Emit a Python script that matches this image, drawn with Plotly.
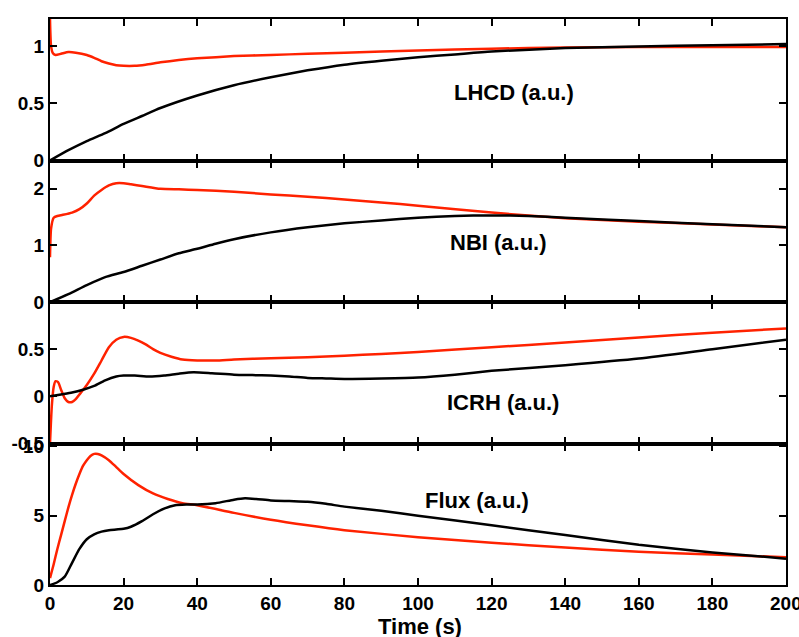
import plotly.graph_objects as go
from plotly.subplots import make_subplots

# ---------------- data ----------------
# Panel 1: LHCD
lhcd_red_t = [0, 0.3, 0.8, 1.5, 3, 5, 7, 10, 12, 14, 16, 18, 20, 23, 26, 30, 35, 40, 50, 60, 70, 80, 100, 120, 140, 160, 180, 200]
lhcd_red = [1.24, 1.0, 0.94, 0.925, 0.935, 0.95, 0.945, 0.925, 0.9, 0.87, 0.85, 0.835, 0.83, 0.83, 0.84, 0.86, 0.88, 0.895, 0.915, 0.925, 0.935, 0.945, 0.965, 0.98, 0.99, 0.995, 0.995, 0.995]
lhcd_blk_t = [0, 5, 10, 15, 20, 25, 30, 40, 50, 60, 70, 80, 90, 100, 110, 120, 140, 160, 180, 200]
lhcd_blk = [0, 0.09, 0.17, 0.24, 0.32, 0.39, 0.46, 0.57, 0.66, 0.73, 0.79, 0.84, 0.875, 0.905, 0.93, 0.955, 0.985, 1.0, 1.01, 1.02]

# Panel 2: NBI
nbi_red_t = [0, 0.3, 1, 2, 3.5, 6, 8, 10, 12, 14, 16, 18, 20, 22, 25, 30, 35, 40, 50, 60, 70, 80, 90, 100, 120, 140, 160, 180, 200]
nbi_red = [0.79, 1.3, 1.49, 1.52, 1.54, 1.58, 1.64, 1.74, 1.88, 1.98, 2.06, 2.1, 2.1, 2.08, 2.05, 2.0, 1.99, 1.98, 1.95, 1.9, 1.86, 1.81, 1.76, 1.7, 1.58, 1.48, 1.42, 1.37, 1.32]
nbi_blk_t = [0, 5, 10, 15, 20, 25, 30, 35, 40, 45, 50, 60, 70, 80, 90, 100, 110, 120, 130, 140, 160, 180, 200]
nbi_blk = [0, 0.14, 0.3, 0.44, 0.53, 0.64, 0.75, 0.86, 0.94, 1.03, 1.11, 1.23, 1.32, 1.39, 1.44, 1.49, 1.52, 1.53, 1.52, 1.49, 1.43, 1.375, 1.32]

# Panel 3: ICRH
icrh_red_t = [0, 0.5, 1, 1.5, 2.2, 3, 4, 5, 6, 7, 8, 10, 12, 14, 16, 18, 20, 22, 24, 26, 28, 30, 33, 36, 40, 45, 50, 60, 70, 80, 90, 100, 120, 140, 160, 180, 200]
icrh_red = [-0.5, -0.1, 0.1, 0.16, 0.15, 0.07, -0.02, -0.06, -0.06, -0.03, 0.02, 0.12, 0.24, 0.38, 0.52, 0.6, 0.63, 0.62, 0.59, 0.55, 0.5, 0.46, 0.42, 0.39, 0.38, 0.38, 0.39, 0.405, 0.415, 0.43, 0.45, 0.47, 0.52, 0.57, 0.625, 0.675, 0.72]
icrh_blk_t = [0, 3, 6, 9, 12, 15, 18, 20, 23, 27, 31, 35, 39, 44, 50, 55, 60, 65, 70, 75, 80, 90, 100, 110, 120, 140, 160, 180, 200]
icrh_blk = [0, 0.02, 0.04, 0.07, 0.11, 0.17, 0.21, 0.22, 0.22, 0.21, 0.22, 0.24, 0.255, 0.245, 0.23, 0.225, 0.22, 0.21, 0.195, 0.19, 0.185, 0.19, 0.2, 0.23, 0.27, 0.33, 0.4, 0.5, 0.6]

# Panel 4: Flux
flux_red_t = [0, 1, 2, 3, 4, 5, 6, 7, 8, 9, 10, 11, 12, 13, 14, 16, 18, 20, 24, 28, 32, 36, 40, 50, 60, 70, 80, 100, 120, 140, 160, 180, 200]
flux_red = [0.5, 1.5, 2.6, 3.6, 4.6, 5.6, 6.5, 7.3, 8.0, 8.6, 9.0, 9.3, 9.45, 9.45, 9.35, 9.0, 8.5, 8.0, 7.2, 6.6, 6.2, 5.9, 5.75, 5.2, 4.7, 4.3, 3.95, 3.45, 3.05, 2.7, 2.4, 2.2, 2.0]
flux_blk_t = [0, 2, 4, 6, 8, 10, 12, 14, 16, 18, 20, 22, 25, 28, 31, 34, 37, 40, 45, 50, 53, 56, 60, 65, 70, 75, 80, 90, 100, 120, 140, 160, 180, 200]
flux_blk = [0, 0.2, 0.6, 1.6, 2.6, 3.3, 3.65, 3.85, 3.95, 4.0, 4.05, 4.2, 4.6, 5.1, 5.5, 5.75, 5.8, 5.8, 5.9, 6.15, 6.25, 6.2, 6.1, 6.05, 6.0, 5.85, 5.65, 5.35, 5.0, 4.3, 3.6, 2.9, 2.35, 1.9]

panel_labels = ["LHCD (a.u.)", "NBI (a.u.)", "ICRH (a.u.)", "Flux (a.u.)"]
label_pos = [(126, 0.6), (122, 1.05), (123, -0.065), (116, 6.07)]
y_ranges = [[0, 1.24], [0, 2.5], [-0.5, 1.0], [0, 10.2]]
y_ticks = [[0, 0.5, 1], [0, 1, 2], [-0.5, 0, 0.5], [0, 5, 10]]
y_ticktext = [["0", "0.5", "1"], ["0", "1", "2"], ["-0.5", "0", "0.5"], ["0", "5", "10"]]
x_ticks = [0, 20, 40, 60, 80, 100, 120, 140, 160, 180, 200]
x_title = "Time (s)"

series = [
    (lhcd_red_t, lhcd_red, lhcd_blk_t, lhcd_blk),
    (nbi_red_t, nbi_red, nbi_blk_t, nbi_blk),
    (icrh_red_t, icrh_red, icrh_blk_t, icrh_blk),
    (flux_red_t, flux_red, flux_blk_t, flux_blk),
]

RED = "#ff2200"
FONT = "Liberation Sans, Arial, sans-serif"
TICKFONT = dict(family=FONT, size=19, color="black", weight="bold")

fig = make_subplots(rows=4, cols=1, shared_xaxes=True, vertical_spacing=0)

for i, (rt, rv, bt, bv) in enumerate(series):
    row = i + 1
    fig.add_trace(go.Scatter(x=rt, y=rv, mode="lines", line=dict(color=RED, width=2.5, shape="spline", smoothing=0.6),
                             showlegend=False, hoverinfo="skip"), row=row, col=1)
    fig.add_trace(go.Scatter(x=bt, y=bv, mode="lines", line=dict(color="black", width=2.5, shape="spline", smoothing=0.6),
                             showlegend=False, hoverinfo="skip"), row=row, col=1)
    fig.update_yaxes(range=y_ranges[i], tickvals=y_ticks[i], ticktext=y_ticktext[i], row=row, col=1)
    fig.add_annotation(x=label_pos[i][0], y=label_pos[i][1], text=panel_labels[i], showarrow=False,
                       xref=f"x{'' if row == 1 else row}", yref=f"y{'' if row == 1 else row}",
                       font=dict(family=FONT, size=22, color="black", weight="bold"))

fig.update_xaxes(range=[0, 200], tickvals=x_ticks, ticks="inside", ticklen=7, tickwidth=2, tickcolor="black",
                 showline=True, linewidth=2, linecolor="black", mirror="ticks", showgrid=False, zeroline=False,
                 tickfont=TICKFONT)
fig.update_yaxes(ticks="inside", ticklen=7, tickwidth=2, tickcolor="black",
                 showline=True, linewidth=2, linecolor="black", mirror="ticks", showgrid=False, zeroline=False,
                 tickfont=TICKFONT)

# last x tick label (Plotly drops it because it runs past the page edge; the reference shows it clipped)
fig.add_annotation(x=x_ticks[-1], y=-0.0335, xref="x4", yref="paper", text=str(x_ticks[-1]), showarrow=False,
                   xanchor="center", yanchor="middle", font=TICKFONT)

fig.add_annotation(x=0.503, y=-0.0736, xref="paper", yref="paper", text=x_title, showarrow=False,
                   yanchor="middle", font=dict(family=FONT, size=22, color="black", weight="bold"))

fig.update_layout(width=799, height=637, margin=dict(l=47, r=11, t=14, b=52),
                  paper_bgcolor="white", plot_bgcolor="white",
                  font=dict(family=FONT, color="black"))

fig.write_html("out.html")
